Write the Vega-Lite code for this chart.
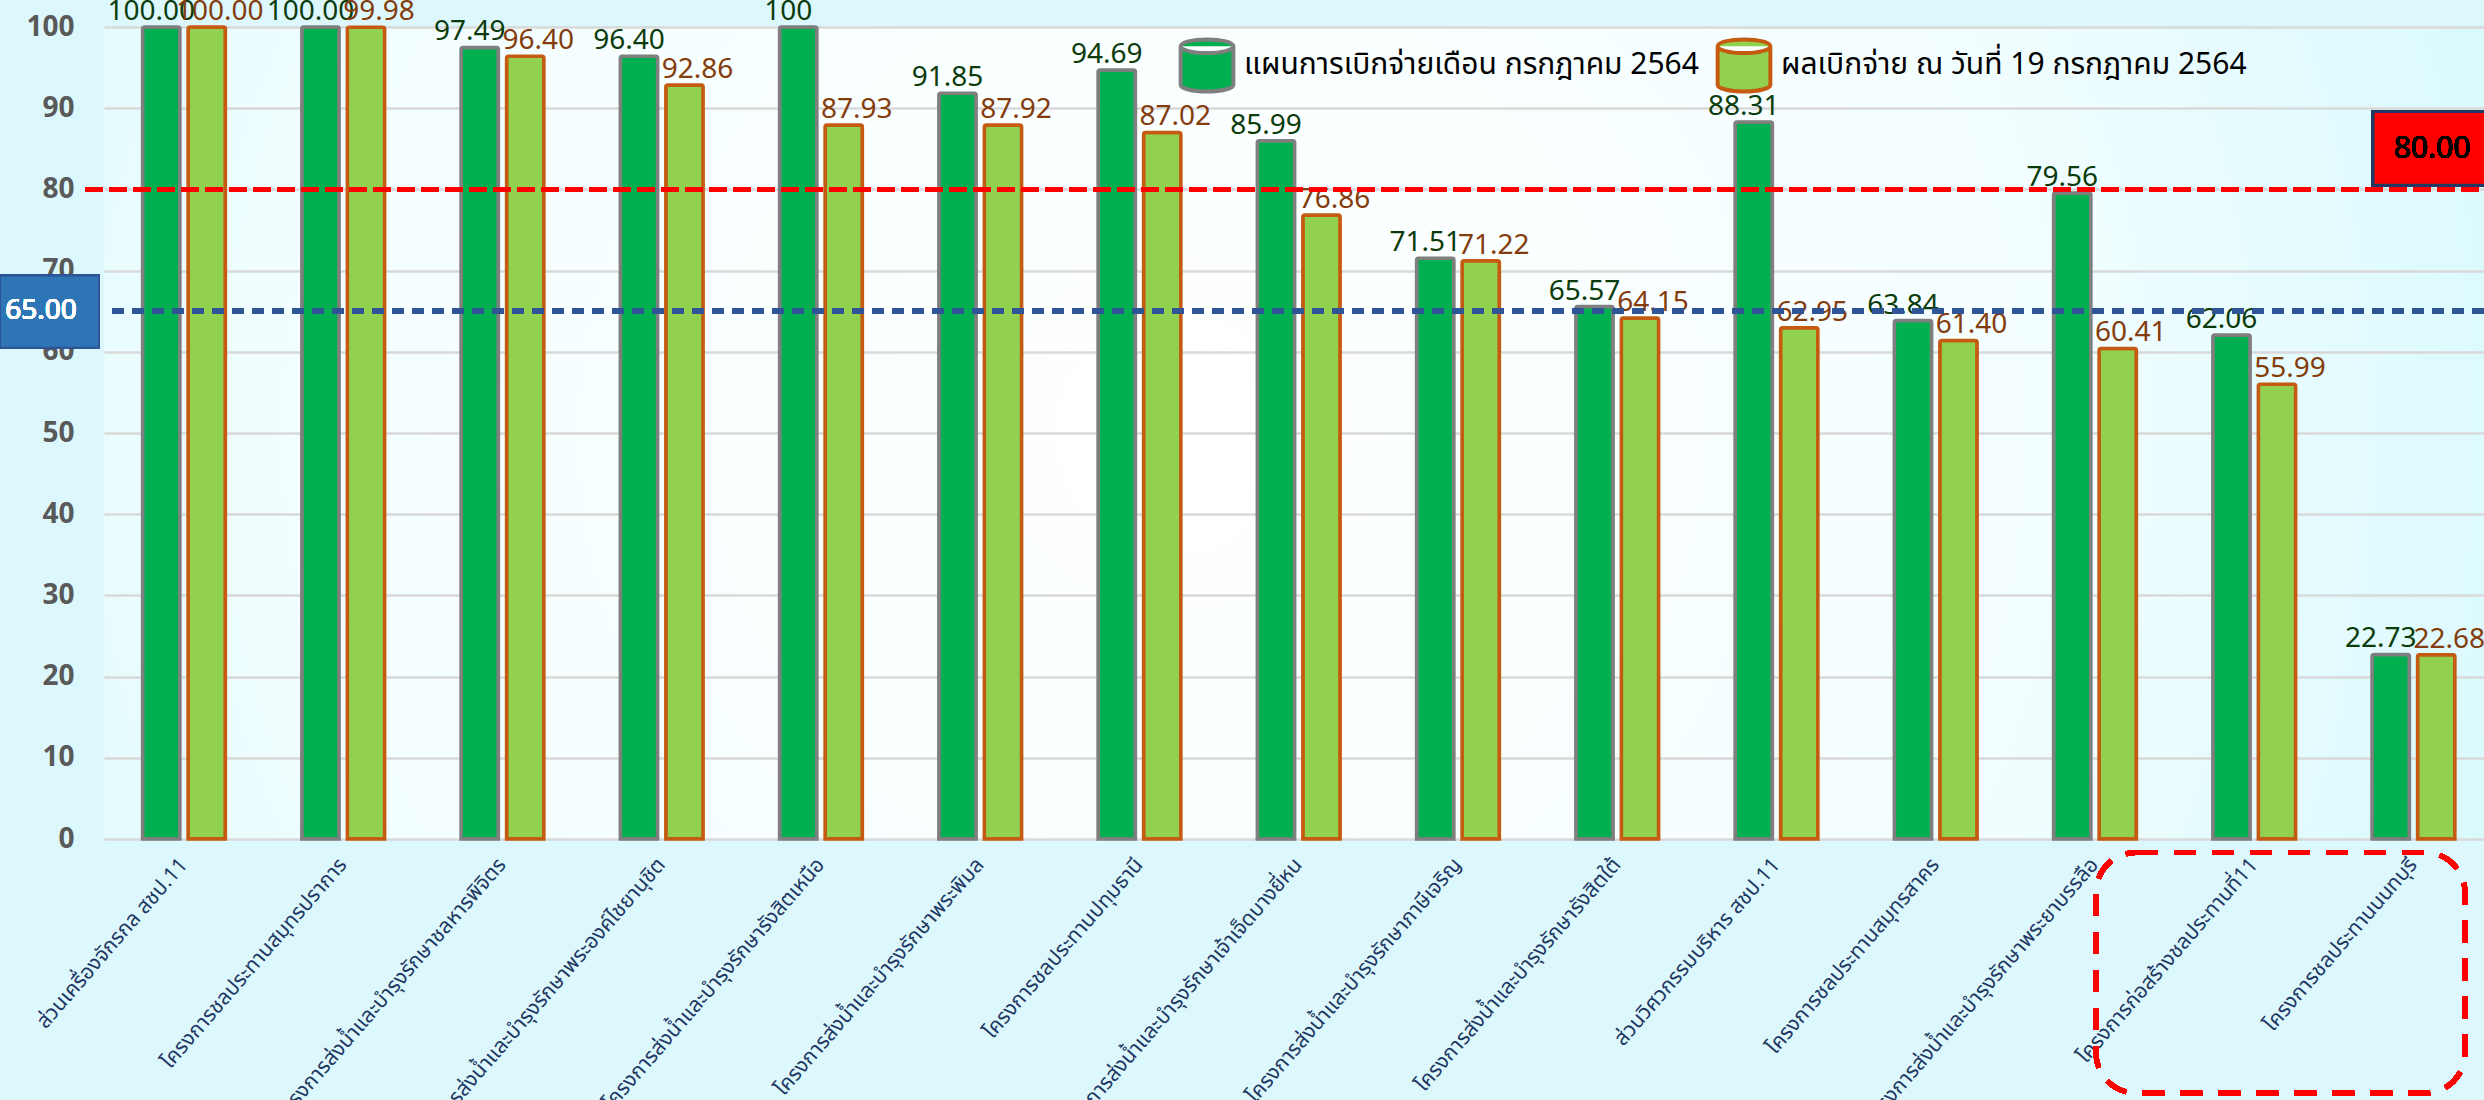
{
  "$schema": "https://vega.github.io/schema/vega-lite/v6.json",
  "width": 2380,
  "height": 812,
  "autosize": "none",
  "padding": {"left": 104, "top": 27, "right": 0, "bottom": 261},
  "background": "#DDF8FC",
  "config": {
    "view": {
      "stroke": null,
      "fill": {"gradient": "radial", "x1": 0.45, "y1": 0.5, "x2": 0.45, "y2": 0.5, "r1": 0, "r2": 0.78,
        "stops": [{"offset": 0, "color": "#FFFFFF"}, {"offset": 0.45, "color": "#F4FEFF"}, {"offset": 1, "color": "#C2F5FB"}]}
    }
  },
  "datasets": {
    "bars": [
      {"project": "ส่วนเครื่องจักรกล สชป.11", "series": "แผนการเบิกจ่ายเดือน กรกฎาคม 2564", "value": 100.00, "label": "100.00"},
      {"project": "ส่วนเครื่องจักรกล สชป.11", "series": "ผลเบิกจ่าย ณ วันที่ 19 กรกฎาคม 2564", "value": 100.00, "label": "100.00"},
      {"project": "โครงการชลประทานสมุทรปราการ", "series": "แผนการเบิกจ่ายเดือน กรกฎาคม 2564", "value": 100.00, "label": "100.00"},
      {"project": "โครงการชลประทานสมุทรปราการ", "series": "ผลเบิกจ่าย ณ วันที่ 19 กรกฎาคม 2564", "value": 99.98, "label": "99.98"},
      {"project": "โครงการส่งน้ำและบำรุงรักษาชลหารพิจิตร", "series": "แผนการเบิกจ่ายเดือน กรกฎาคม 2564", "value": 97.49, "label": "97.49"},
      {"project": "โครงการส่งน้ำและบำรุงรักษาชลหารพิจิตร", "series": "ผลเบิกจ่าย ณ วันที่ 19 กรกฎาคม 2564", "value": 96.40, "label": "96.40"},
      {"project": "โครงการส่งน้ำและบำรุงรักษาพระองค์ไชยานุชิต", "series": "แผนการเบิกจ่ายเดือน กรกฎาคม 2564", "value": 96.40, "label": "96.40"},
      {"project": "โครงการส่งน้ำและบำรุงรักษาพระองค์ไชยานุชิต", "series": "ผลเบิกจ่าย ณ วันที่ 19 กรกฎาคม 2564", "value": 92.86, "label": "92.86"},
      {"project": "โครงการส่งน้ำและบำรุงรักษารังสิตเหนือ", "series": "แผนการเบิกจ่ายเดือน กรกฎาคม 2564", "value": 100, "label": "100"},
      {"project": "โครงการส่งน้ำและบำรุงรักษารังสิตเหนือ", "series": "ผลเบิกจ่าย ณ วันที่ 19 กรกฎาคม 2564", "value": 87.93, "label": "87.93"},
      {"project": "โครงการส่งน้ำและบำรุงรักษาพระพิมล", "series": "แผนการเบิกจ่ายเดือน กรกฎาคม 2564", "value": 91.85, "label": "91.85"},
      {"project": "โครงการส่งน้ำและบำรุงรักษาพระพิมล", "series": "ผลเบิกจ่าย ณ วันที่ 19 กรกฎาคม 2564", "value": 87.92, "label": "87.92"},
      {"project": "โครงการชลประทานปทุมธานี", "series": "แผนการเบิกจ่ายเดือน กรกฎาคม 2564", "value": 94.69, "label": "94.69"},
      {"project": "โครงการชลประทานปทุมธานี", "series": "ผลเบิกจ่าย ณ วันที่ 19 กรกฎาคม 2564", "value": 87.02, "label": "87.02"},
      {"project": "โครงการส่งน้ำและบำรุงรักษาเจ้าเจ็ดบางยี่หน", "series": "แผนการเบิกจ่ายเดือน กรกฎาคม 2564", "value": 85.99, "label": "85.99"},
      {"project": "โครงการส่งน้ำและบำรุงรักษาเจ้าเจ็ดบางยี่หน", "series": "ผลเบิกจ่าย ณ วันที่ 19 กรกฎาคม 2564", "value": 76.86, "label": "76.86"},
      {"project": "โครงการส่งน้ำและบำรุงรักษาภาษีเจริญ", "series": "แผนการเบิกจ่ายเดือน กรกฎาคม 2564", "value": 71.51, "label": "71.51"},
      {"project": "โครงการส่งน้ำและบำรุงรักษาภาษีเจริญ", "series": "ผลเบิกจ่าย ณ วันที่ 19 กรกฎาคม 2564", "value": 71.22, "label": "71.22"},
      {"project": "โครงการส่งน้ำและบำรุงรักษารังสิตใต้", "series": "แผนการเบิกจ่ายเดือน กรกฎาคม 2564", "value": 65.57, "label": "65.57"},
      {"project": "โครงการส่งน้ำและบำรุงรักษารังสิตใต้", "series": "ผลเบิกจ่าย ณ วันที่ 19 กรกฎาคม 2564", "value": 64.15, "label": "64.15"},
      {"project": "ส่วนวิศวกรรมบริหาร สชป.11", "series": "แผนการเบิกจ่ายเดือน กรกฎาคม 2564", "value": 88.31, "label": "88.31"},
      {"project": "ส่วนวิศวกรรมบริหาร สชป.11", "series": "ผลเบิกจ่าย ณ วันที่ 19 กรกฎาคม 2564", "value": 62.95, "label": "62.95"},
      {"project": "โครงการชลประทานสมุทรสาคร", "series": "แผนการเบิกจ่ายเดือน กรกฎาคม 2564", "value": 63.84, "label": "63.84"},
      {"project": "โครงการชลประทานสมุทรสาคร", "series": "ผลเบิกจ่าย ณ วันที่ 19 กรกฎาคม 2564", "value": 61.40, "label": "61.40"},
      {"project": "โครงการส่งน้ำและบำรุงรักษาพระยาบรรลือ", "series": "แผนการเบิกจ่ายเดือน กรกฎาคม 2564", "value": 79.56, "label": "79.56"},
      {"project": "โครงการส่งน้ำและบำรุงรักษาพระยาบรรลือ", "series": "ผลเบิกจ่าย ณ วันที่ 19 กรกฎาคม 2564", "value": 60.41, "label": "60.41"},
      {"project": "โครงการก่อสร้างชลประทานที่11", "series": "แผนการเบิกจ่ายเดือน กรกฎาคม 2564", "value": 62.06, "label": "62.06"},
      {"project": "โครงการก่อสร้างชลประทานที่11", "series": "ผลเบิกจ่าย ณ วันที่ 19 กรกฎาคม 2564", "value": 55.99, "label": "55.99"},
      {"project": "โครงการชลประทานนนทบุรี", "series": "แผนการเบิกจ่ายเดือน กรกฎาคม 2564", "value": 22.73, "label": "22.73"},
      {"project": "โครงการชลประทานนนทบุรี", "series": "ผลเบิกจ่าย ณ วันที่ 19 กรกฎาคม 2564", "value": 22.68, "label": "22.68"}
    ]
  },
  "data": {"name": "bars"},
  "layer": [
    {
      "mark": {"type": "bar", "strokeWidth": 3.5, "cornerRadiusEnd": 2},
      "encoding": {
        "x": {
          "field": "project", "type": "nominal", "sort": null,
          "scale": {"paddingInner": 0.48, "paddingOuter": 0.2125, "align": 0.57},
          "axis": {
            "title": null, "labelAngle": -49, "labelAlign": "right", "labelBaseline": "middle",
            "labelFont": "Noto Sans Thai, Tahoma, sans-serif", "labelFontSize": 21, "labelColor": "#1F3864",
            "labelPadding": 22, "ticks": false, "domain": false, "grid": false,
            "labelOverlap": false, "labelLimit": 0, "labelBound": false, "labelFlush": false
          }
        },
        "xOffset": {
          "field": "series", "type": "nominal",
          "scale": {"domain": ["แผนการเบิกจ่ายเดือน กรกฎาคม 2564", "ผลเบิกจ่าย ณ วันที่ 19 กรกฎาคม 2564"], "paddingInner": 0.18, "paddingOuter": 0}
        },
        "y": {
          "field": "value", "type": "quantitative",
          "scale": {"domain": [0, 100], "nice": false},
          "axis": {
            "title": null, "values": [0, 10, 20, 30, 40, 50, 60, 70, 80, 90, 100],
            "labelFont": "Noto Sans", "labelFontWeight": "bold", "labelFontSize": 28, "labelColor": "#595959",
            "labelPadding": 30, "ticks": false, "domain": false, "grid": true,
            "gridColor": "#D9D9D9", "gridWidth": 2.5
          }
        },
        "fill": {
          "field": "series", "type": "nominal",
          "scale": {"domain": ["แผนการเบิกจ่ายเดือน กรกฎาคม 2564", "ผลเบิกจ่าย ณ วันที่ 19 กรกฎาคม 2564"], "range": ["#00B050", "#92D050"]},
          "legend": {
            "title": null, "orient": "none", "legendX": 1070, "legendY": 5, "direction": "horizontal",
            "symbolType": "M-0.85,-0.62 A0.85,0.22 0 0 1 0.85,-0.62 L0.85,0.62 A0.85,0.22 0 0 1 -0.85,0.62 Z M-0.85,-0.62 A0.85,0.22 0 0 0 0.85,-0.62",
            "symbolSize": 3844, "symbolStrokeWidth": 4, "symbolOpacity": 1,
            "labelFont": "Noto Sans Thai, Tahoma, sans-serif", "labelFontSize": 30, "labelColor": "#000000",
            "labelLimit": 0, "columnPadding": 10, "labelOffset": 4, "padding": 0
          }
        },
        "stroke": {
          "field": "series", "type": "nominal",
          "scale": {"domain": ["แผนการเบิกจ่ายเดือน กรกฎาคม 2564", "ผลเบิกจ่าย ณ วันที่ 19 กรกฎาคม 2564"], "range": ["#7F7F7F", "#C55A11"]},
          "legend": {
            "title": null, "orient": "none", "legendX": 1070, "legendY": 5, "direction": "horizontal",
            "symbolType": "M-0.85,-0.62 A0.85,0.22 0 0 1 0.85,-0.62 L0.85,0.62 A0.85,0.22 0 0 1 -0.85,0.62 Z M-0.85,-0.62 A0.85,0.22 0 0 0 0.85,-0.62",
            "symbolSize": 3844, "symbolStrokeWidth": 4, "symbolOpacity": 1,
            "labelFont": "Noto Sans Thai, Tahoma, sans-serif", "labelFontSize": 30, "labelColor": "#000000",
            "labelLimit": 0, "columnPadding": 10, "labelOffset": 4, "padding": 0
          }
        }
      }
    },
    {
      "transform": [{"filter": {"field": "series", "equal": "แผนการเบิกจ่ายเดือน กรกฎาคม 2564"}}],
      "mark": {"type": "text", "font": "Noto Sans", "fontSize": 28, "fill": "#0B3B0B", "baseline": "alphabetic", "dy": -7, "dx": -10},
      "encoding": {
        "x": {"field": "project", "type": "nominal", "sort": null},
        "xOffset": {"field": "series", "type": "nominal"},
        "y": {"field": "value", "type": "quantitative"},
        "text": {"field": "label"}
      }
    },
    {
      "transform": [{"filter": {"field": "series", "equal": "ผลเบิกจ่าย ณ วันที่ 19 กรกฎาคม 2564"}}],
      "mark": {"type": "text", "font": "Noto Sans", "fontSize": 28, "fill": "#843C0C", "baseline": "alphabetic", "dy": -7, "dx": 13},
      "encoding": {
        "x": {"field": "project", "type": "nominal", "sort": null},
        "xOffset": {"field": "series", "type": "nominal"},
        "y": {"field": "value", "type": "quantitative"},
        "text": {"field": "label"}
      }
    },
    {
      "mark": {"type": "rule", "color": "#FF0000", "strokeWidth": 5, "strokeDash": [18, 6]},
      "encoding": {"x": {"value": -19}, "x2": {"value": 2380}, "y": {"datum": 80}}
    },
    {
      "mark": {"type": "rule", "color": "#2F5597", "strokeWidth": 5, "strokeDash": [12, 8]},
      "encoding": {"y": {"datum": 65}}
    },
    {
      "mark": {"type": "rect", "fill": "#2E75B6", "stroke": "#2F5597", "strokeWidth": 2},
      "encoding": {"x": {"value": -104}, "x2": {"value": -5}, "y": {"datum": 69.4}, "y2": {"datum": 60.5}}
    },
    {
      "mark": {"type": "text", "fill": "#FFFFFF", "font": "Noto Sans", "fontSize": 28, "align": "center", "baseline": "middle"},
      "encoding": {"x": {"value": -63}, "y": {"datum": 65}, "text": {"value": "65.00"}}
    },
    {
      "mark": {"type": "rect", "fill": "#FF0000", "stroke": "#203864", "strokeWidth": 3},
      "encoding": {"x": {"value": 2269}, "x2": {"value": 2400}, "y": {"datum": 89.6}, "y2": {"datum": 80.5}}
    },
    {
      "mark": {"type": "text", "fill": "#000000", "font": "Noto Sans", "fontSize": 30, "align": "center", "baseline": "middle"},
      "encoding": {"x": {"value": 2328}, "y": {"datum": 85}, "text": {"value": "80.00"}}
    },
    {
      "mark": {"type": "rect", "fill": "#FFFFFF", "fillOpacity": 0, "stroke": "#FF0000", "strokeWidth": 5, "strokeDash": [22, 16], "cornerRadius": 40},
      "encoding": {"x": {"value": 1992}, "x2": {"value": 2361}, "y": {"datum": -1.66}, "y2": {"datum": -31.3}}
    }
  ]
}
